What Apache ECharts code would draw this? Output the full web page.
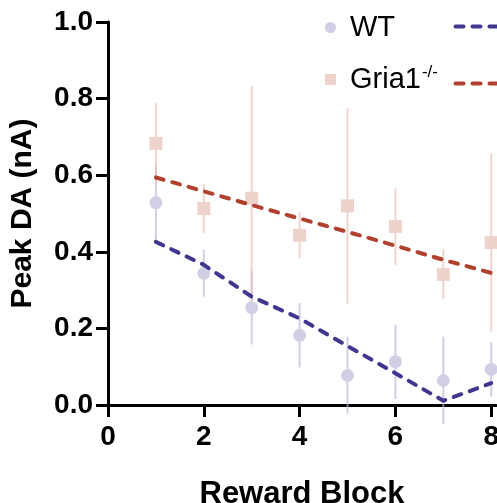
<!DOCTYPE html>
<html lang="en">
<head>
<meta charset="UTF-8">
<title>Peak DA</title>
<script src="https://cdn.jsdelivr.net/npm/echarts@6/dist/echarts.min.js"></script>
<style>html,body{margin:0;padding:0;background:#fff;}</style>
</head>
<body>
<div id="main" style="width:497px;height:503px;"></div>
<script>
// data
var blocks = [1, 2, 3, 4, 5, 6, 7, 8];
var wtMean = [0.528, 0.344, 0.254, 0.182, 0.077, 0.113, 0.064, 0.093];
var wtErr  = [0.098, 0.061, 0.096, 0.084, 0.100, 0.097, 0.114, 0.071];
var koMean = [0.683, 0.513, 0.540, 0.443, 0.520, 0.466, 0.341, 0.424];
var koErr  = [0.105, 0.065, 0.293, 0.060, 0.255, 0.100, 0.065, 0.233];
var wtFit  = [0.426, 0.366, 0.283, 0.226, 0.154, 0.083, 0.011, 0.057];
var koFit  = [0.594, 0.558, 0.522, 0.487, 0.452, 0.416, 0.379, 0.345];
var xTicks = [0, 2, 4, 6, 8];

var font = 'Liberation Sans, Arial, sans-serif';
var wtColor = '#d1cfe5', koColor = '#eed3cc';
var wtLine = '#3f3690', koLine = '#b1402f';

function pairs(arr) {
    return blocks.map(function (b, i) { return [b, arr[i]]; });
}
function errData(mean, err) {
    return blocks.map(function (b, i) { return [b, mean[i] - err[i], mean[i] + err[i]]; });
}
function errSeries(name, mean, err, color) {
    return {
        name: name,
        type: 'custom',
        clip: false,
        z: 1,
        encode: {x: 0, y: [1, 2]},
        data: errData(mean, err),
        renderItem: function (params, api) {
            var lo = api.coord([api.value(0), api.value(1)]);
            var hi = api.coord([api.value(0), api.value(2)]);
            return {
                type: 'line',
                shape: {x1: lo[0], y1: lo[1], x2: hi[0], y2: hi[1]},
                style: {stroke: color, lineWidth: 2}
            };
        }
    };
}
function fitSeries(name, vals, color) {
    return {
        name: name,
        type: 'line',
        z: 5,
        symbol: 'none',
        clip: false,
        data: pairs(vals),
        lineStyle: {color: color, width: 4, type: [8, 9], cap: 'round'}
    };
}

var chart = echarts.init(document.getElementById('main'));
var option = {
    animation: false,
    backgroundColor: '#fff',
    textStyle: {fontFamily: font},
    grid: {left: 108, right: 1, top: 22, bottom: 98, containLabel: false, outerBoundsMode: 'none'},
    legend: {
        orient: 'vertical',
        left: 320,
        top: 8,
        itemWidth: 11,
        itemHeight: 11,
        itemGap: 22,
        data: [{name: 'WT', icon: 'circle'}, {name: 'Gria1', icon: 'rect'}],
        formatter: function (n) {
            return n === 'Gria1' ? '{a|Gria1}{s|-/-}' : '{a|' + n + '}';
        },
        textStyle: {
            color: '#000',
            fontFamily: font,
            padding: [0, 0, 0, 9],
            rich: {
                a: {fontSize: 29, fontFamily: font, color: '#000'},
                s: {fontSize: 17, fontFamily: font, color: '#000', verticalAlign: 'top', padding: [0, 0, 14, 1]}
            }
        }
    },
    graphic: [
        {type: 'line', left: 453, top: 24, shape: {x1: 0, y1: 0, x2: 60, y2: 0},
         style: {stroke: wtLine, lineWidth: 4, lineDash: [8, 9], lineCap: 'round'}},
        {type: 'line', left: 453, top: 81, shape: {x1: 0, y1: 0, x2: 60, y2: 0},
         style: {stroke: koLine, lineWidth: 4, lineDash: [8, 9], lineCap: 'round'}}
    ],
    xAxis: {
        type: 'value',
        min: 0,
        max: 8.1,
        name: 'Reward Block',
        nameLocation: 'middle',
        nameGap: 74,
        nameTextStyle: {fontSize: 31, fontWeight: 'bold', color: '#000', fontFamily: font},
        splitLine: {show: false},
        axisLine: {lineStyle: {color: '#000', width: 3}},
        axisTick: {length: 12, lineStyle: {color: '#000', width: 3}, customValues: xTicks},
        axisLabel: {fontSize: 28, fontWeight: 'bold', color: '#000', margin: 18, fontFamily: font,
                    customValues: xTicks}
    },
    yAxis: {
        type: 'value',
        min: 0,
        max: 1,
        interval: 0.2,
        name: 'Peak DA (nA)',
        nameLocation: 'middle',
        nameGap: 70,
        nameTextStyle: {fontSize: 30, fontWeight: 'bold', color: '#000', fontFamily: font},
        splitLine: {show: false},
        axisLine: {show: true, lineStyle: {color: '#000', width: 3}},
        axisTick: {show: true, length: 12, lineStyle: {color: '#000', width: 3}},
        axisLabel: {fontSize: 28, fontWeight: 'bold', color: '#000', margin: 15, fontFamily: font,
                    formatter: function (v) { return v.toFixed(1); }}
    },
    series: [
        errSeries('WT err', wtMean, wtErr, 'rgba(185,181,218,0.65)'),
        errSeries('Gria1 err', koMean, koErr, 'rgba(232,190,180,0.65)'),
        {name: 'WT', type: 'scatter', z: 2, symbol: 'circle', symbolSize: 13,
         itemStyle: {color: wtColor, opacity: 1}, data: pairs(wtMean)},
        {name: 'Gria1', type: 'scatter', z: 2, symbol: 'rect', symbolSize: 13,
         itemStyle: {color: koColor, opacity: 1}, data: pairs(koMean)},
        fitSeries('WT fit', wtFit, wtLine),
        fitSeries('Gria1 fit', koFit, koLine)
    ]
};
chart.setOption(option);
</script>
</body>
</html>
